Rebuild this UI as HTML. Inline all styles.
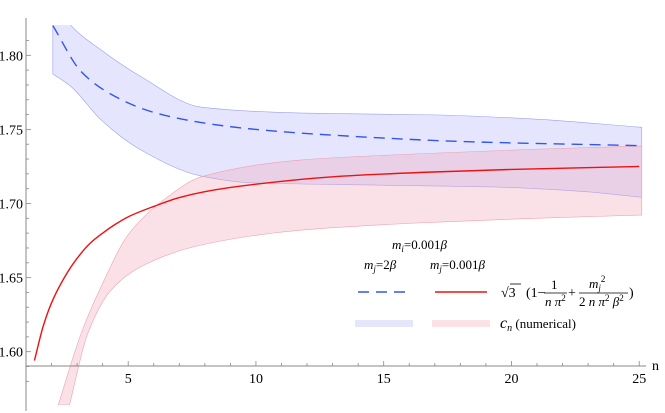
<!DOCTYPE html>
<html><head><meta charset="utf-8"><style>
body{margin:0;background:#fff}
svg{display:block}
text{font-family:"Liberation Serif","Times New Roman","DejaVu Serif","Noto Serif CJK SC",serif}
</style></head><body>
<svg id="chart" width="665" height="413" viewBox="0 0 665 413" xmlns="http://www.w3.org/2000/svg">
<defs><clipPath id="clip"><rect x="26" y="25" width="620" height="380"/></clipPath></defs>
<g id="bands" clip-path="url(#clip)"></g>
<g id="lines" clip-path="url(#clip)"></g>
<g id="axes"></g>
<g id="legend">
  <text x="392" y="249" font-size="13"><tspan font-style="italic">m</tspan><tspan font-size="9" font-style="italic" dy="3">i</tspan><tspan dy="-3">=0.001</tspan><tspan font-style="italic">β</tspan></text>
  <text x="364" y="269" font-size="13"><tspan font-style="italic">m</tspan><tspan font-size="9" font-style="italic" dy="3">j</tspan><tspan dy="-3">=2</tspan><tspan font-style="italic">β</tspan></text>
  <text x="430" y="269" font-size="13"><tspan font-style="italic">m</tspan><tspan font-size="9" font-style="italic" dy="3">j</tspan><tspan dy="-3">=0.001</tspan><tspan font-style="italic">β</tspan></text>
  <line x1="358" y1="292" x2="410" y2="292" stroke="#3355ee" stroke-width="1.4" stroke-dasharray="11,7"/>
  <line x1="435" y1="292" x2="487" y2="292" stroke="#ee1111" stroke-width="1.4"/>
  <g font-size="14">
    <text x="501" y="297">√3</text>
    <line x1="510" y1="284" x2="521" y2="284" stroke="#000" stroke-width="0.8"/>
    <text x="526" y="297">(1−</text>
    <text x="551" y="289" font-size="13">1</text>
    <line x1="544" y1="293" x2="567" y2="293" stroke="#000" stroke-width="0.8"/>
    <text x="545" y="306" font-size="13" font-style="italic">n π<tspan font-size="9" font-style="normal" dy="-5">2</tspan></text>
    <text x="568" y="297">+</text>
    <text x="589" y="288" font-size="13" font-style="italic">m<tspan font-size="9" dy="3">j</tspan><tspan font-size="9" font-style="normal" dy="-9">2</tspan></text>
    <line x1="579" y1="293" x2="628" y2="293" stroke="#000" stroke-width="0.8"/>
    <text x="579" y="306" font-size="13">2 <tspan font-style="italic">n π</tspan><tspan font-size="9" dy="-5">2</tspan><tspan dy="5" font-style="italic"> β</tspan><tspan font-size="9" dy="-5">2</tspan></text>
    <text x="629" y="297">)</text>
  </g>
  <rect x="355" y="320" width="58" height="7" fill="#e6e6fb"/>
  <rect x="432" y="320" width="58" height="7" fill="#fbe2e6"/>
  <text x="500" y="328" font-size="13"><tspan font-style="italic" font-size="16">c</tspan><tspan font-style="italic" font-size="10" dy="3">n</tspan><tspan dy="-3"> (numerical)</tspan></text>
</g>
</svg>
<script>
const redN=[1.33,1.67,2,2.5,3,3.5,4,4.5,5,6,7,8,10,13,16.5,20,25];
const redV=[1.594,1.617,1.633,1.650,1.663,1.673,1.680,1.686,1.691,1.698,1.704,1.708,1.713,1.718,1.721,1.723,1.725];
const blueN=[2.05,3.16,4.33,5.9,7.86,10,13.1,18.3,25.1];
const blueV=[1.820,1.789,1.7737,1.762,1.7546,1.750,1.746,1.7417,1.739];
const blueUpN=[2.05,2.77,3.94,5.5,7.86,11.8,16.9,20.9,25.1];
const blueUpV=[1.84,1.82,1.8036,1.7856,1.765,1.761,1.7598,1.757,1.7514];
const blueLoN=[2.05,2.77,3.94,5.5,7.86,9.8,14.4,19.6,22.9,25.1];
const blueLoV=[1.7874,1.7788,1.7564,1.7361,1.7185,1.714,1.7125,1.711,1.708,1.7042];
const pinkUpN=[2.26,3.16,3.94,5.04,6.55,7.86,11.8,16.9,20.9,25.1];
const pinkUpV=[1.564,1.6124,1.6439,1.6799,1.7046,1.718,1.7294,1.7339,1.7366,1.7388];
const pinkLoN=[2.7,3.42,4.33,5.5,7.86,11.8,16.9,20.9,25.1];
const pinkLoV=[1.564,1.6124,1.6416,1.6574,1.672,1.6821,1.6873,1.69,1.6922];
const xTicks=[5,10,15,20,25];
const yTicks=[1.60,1.65,1.70,1.75,1.80];

const NS="http://www.w3.org/2000/svg";
const X=n=>26+(n-1)*25.55;
const Y=v=>351.7-(v-1.60)*1482;
function pts(ns,vs){return ns.map((n,i)=>[X(n),Y(vs[i])]);}
function smooth(p,rev){
 const n=p.length,dx=[],m=[],t=[];
 for(let i=0;i<n-1;i++){dx[i]=p[i+1][0]-p[i][0];m[i]=(p[i+1][1]-p[i][1])/dx[i];}
 t[0]=m[0];t[n-1]=m[n-2];
 for(let i=1;i<n-1;i++){if(m[i-1]*m[i]<=0)t[i]=0;else{const w1=2*dx[i]+dx[i-1],w2=dx[i]+2*dx[i-1];t[i]=(w1+w2)/(w1/m[i-1]+w2/m[i]);}}
 const segs=[];
 for(let i=0;i<n-1;i++){const h=dx[i]/3;segs.push([p[i],[p[i][0]+h,p[i][1]+t[i]*h],[p[i+1][0]-h,p[i+1][1]-t[i+1]*h],p[i+1]]);}
 if(!rev){let d="M"+p[0][0]+","+p[0][1];segs.forEach(s=>{d+=" C"+s[1]+" "+s[2]+" "+s[3];});return d;}
 let d="";for(let i=segs.length-1;i>=0;i--){const s=segs[i];if(i===segs.length-1)d+=" L"+s[3];d+=" C"+s[2]+" "+s[1]+" "+s[0];}return d;
}
function band(up,lo){return smooth(up)+smooth(lo,true)+" Z";}
const bands=document.getElementById('bands'),lines=document.getElementById('lines'),axes=document.getElementById('axes');
function mk(tag,attrs,parent){const e=document.createElementNS(NS,tag);for(const k in attrs)e.setAttribute(k,attrs[k]);parent.appendChild(e);return e;}
let e;
e=mk('path',{d:band(pts(blueUpN,blueUpV),pts(blueLoN,blueLoV)),fill:'rgb(190,190,250)','fill-opacity':'0.4',stroke:'#9aa0ee','stroke-width':'0.6'},bands);


e=mk('path',{d:band(pts(pinkUpN,pinkUpV),pts(pinkLoN,pinkLoV)),fill:'rgb(240,170,185)','fill-opacity':'0.35',stroke:'#eea0b0','stroke-width':'0.6'},bands);


e=mk('path',{d:smooth(pts(blueN,blueV)),fill:'none',stroke:'#3355ee','stroke-width':'1.4','stroke-dasharray':'11,7'},lines);


e=mk('path',{d:smooth(pts(redN,redV)),fill:'none',stroke:'#ee1111','stroke-width':'1.4'},lines);


e=mk('line',{x1:26,y1:366,x2:646,y2:366,stroke:'#888','stroke-width':'1'},axes);


e=mk('line',{x1:26,y1:18,x2:26,y2:411,stroke:'#888','stroke-width':'1'},axes);


for(let n=2;n<=25;n++){const major=n%5===0;
 mk('line',{x1:X(n),y1:366,x2:X(n),y2:366-(major?5:3),stroke:'#888','stroke-width':'0.8'},axes);}
xTicks.forEach(n=>{const t=mk('text',{x:X(n),y:383,'text-anchor':'middle','font-size':'14'},axes);t.textContent=n;
 
 });
for(let k=0;k<=23;k++){const v=1.58+k*0.01;const y=Y(v);if(y<18||y>411)continue;const r=Math.round(v*100)%5;const major=r===0;
 mk('line',{x1:26,y1:y,x2:26+(major?5:3),y2:y,stroke:'#888','stroke-width':'0.8'},axes);}
yTicks.forEach(v=>{const t=mk('text',{x:23,y:Y(v)+5,'text-anchor':'end','font-size':'14'},axes);t.textContent=v.toFixed(2);
 
 });
e=mk('text',{x:652,y:370,'font-size':'14'},axes);e.textContent='n';


</script>
</body></html>
